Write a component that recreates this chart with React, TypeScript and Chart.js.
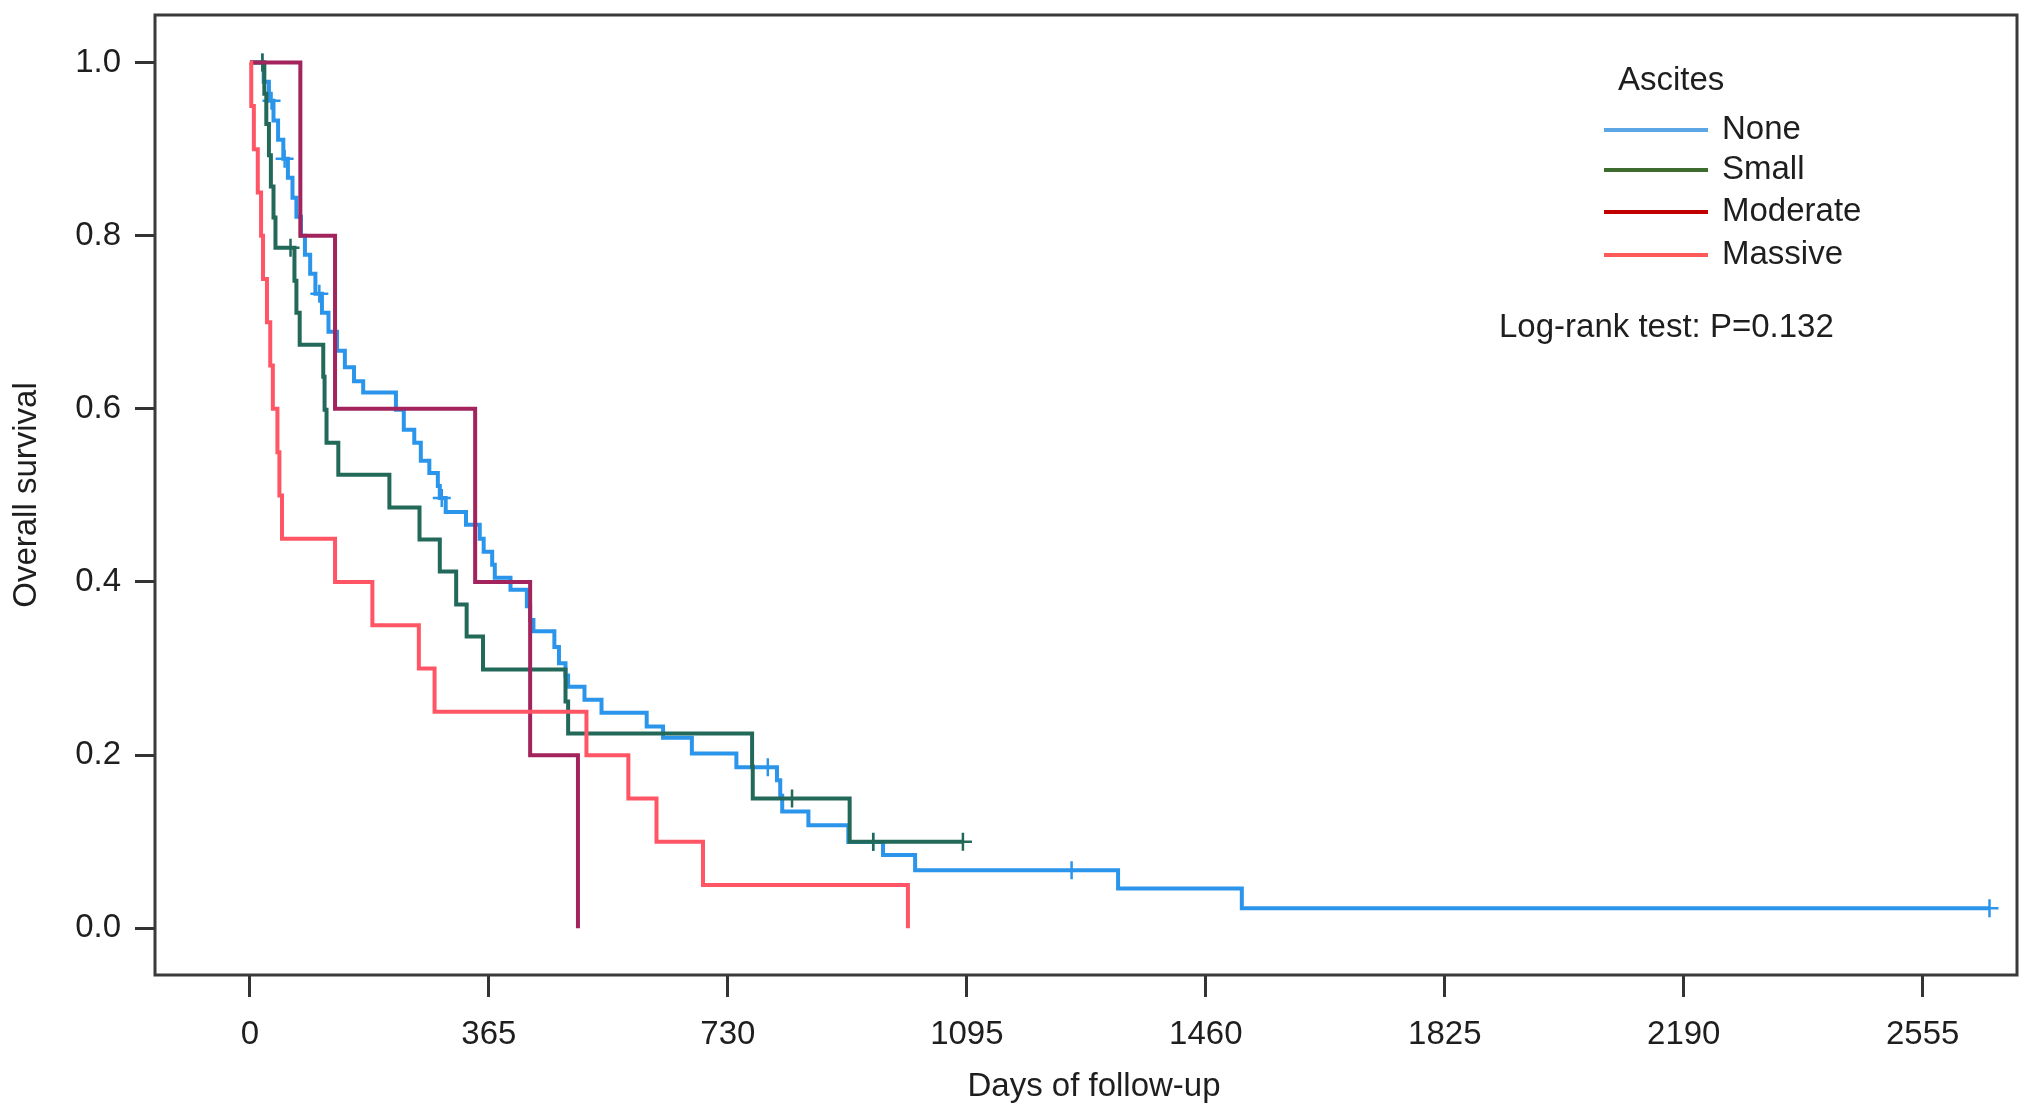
import React, { useEffect, useRef } from 'react';
import { Chart, registerables } from 'chart.js';

Chart.register(...registerables);

// ---- Axis ticks ----
const xTicks = [0, 365, 730, 1095, 1460, 1825, 2190, 2555];
const yTicks = [0, 0.2, 0.4, 0.6, 0.8, 1.0];

// ---- Series: None ----
const noneDays = [0, 21, 29, 36, 43, 51, 58, 65, 71, 78, 84, 92, 100, 110, 120, 133, 145, 159, 173, 223, 235, 251, 261, 274, 287, 290, 299, 330, 351, 357, 370, 374, 398, 423, 428, 433, 465, 472, 482, 486, 511, 537, 606, 631, 675, 743, 805, 810, 813, 853, 914, 967, 1016, 1326, 1515, 2657];
const noneSurv = [1.0, 0.978, 0.956, 0.933, 0.911, 0.889, 0.867, 0.844, 0.822, 0.800, 0.778, 0.756, 0.733, 0.711, 0.689, 0.667, 0.648, 0.632, 0.619, 0.599, 0.576, 0.561, 0.540, 0.526, 0.511, 0.497, 0.481, 0.466, 0.450, 0.435, 0.420, 0.405, 0.391, 0.372, 0.356, 0.343, 0.325, 0.306, 0.292, 0.279, 0.264, 0.249, 0.233, 0.220, 0.202, 0.186, 0.171, 0.153, 0.135, 0.119, 0.0995, 0.0845, 0.067, 0.046, 0.023, 0.023];
const noneCensorDays = [19, 33, 53, 106, 293, 791, 952, 1255, 2657];
const noneCensorSurv = [1.0, 0.956, 0.889, 0.733, 0.497, 0.186, 0.0995, 0.067, 0.023];

// ---- Series: Small ----
const smallDays = [0, 22, 25, 29, 32, 36, 39, 68, 71, 76, 112, 114, 117, 135, 213, 259, 290, 315, 331, 356, 482, 486, 767, 768, 916, 1089];
const smallSurv = [1.0, 0.964, 0.929, 0.893, 0.857, 0.821, 0.786, 0.748, 0.711, 0.674, 0.637, 0.599, 0.561, 0.524, 0.486, 0.449, 0.412, 0.374, 0.337, 0.299, 0.262, 0.225, 0.187, 0.150, 0.100, 0.100];
const smallCensorDays = [19, 62, 828, 952, 1089];
const smallCensorSurv = [1.0, 0.786, 0.150, 0.100, 0.100];

// ---- Series: Moderate ----
const moderateDays = [0, 77, 130, 344, 428, 501];
const moderateSurv = [1.0, 0.8, 0.6, 0.4, 0.2, 0.0];

// ---- Series: Massive ----
const massiveDays = [0, 2, 6, 12, 17, 20, 26, 31, 35, 42, 45, 49, 130, 187, 258, 282, 514, 578, 621, 692, 1005];
const massiveSurv = [1.0, 0.95, 0.90, 0.85, 0.80, 0.75, 0.70, 0.65, 0.60, 0.55, 0.50, 0.45, 0.40, 0.35, 0.30, 0.25, 0.20, 0.15, 0.10, 0.05, 0.0];

// ---- Legend / annotations ----
const legendTitle = 'Ascites';
const legendLabels = ['None', 'Small', 'Moderate', 'Massive'];
const legendColors = ['#5CA6E6', '#3E6B2E', '#C00000', '#FF5A5A'];
const curveColors = ['#2A95EA', '#22695A', '#A3235D', '#FF5565'];
const testText = 'Log-rank test: P=0.132';
const xTitle = 'Days of follow-up';
const yTitle = 'Overall survival';

const FONT = '"Liberation Sans", Arial, Helvetica, sans-serif';
const TEXT = '#1e1e1e';

const pts = (xs: number[], ys: number[]) => xs.map((x, i) => ({ x, y: ys[i] }));

const boxPlugin = {
  id: 'rbox',
  afterDraw(chart: any) {
    const { ctx, chartArea } = chart;
    ctx.save();
    ctx.strokeStyle = '#3a3a3a';
    ctx.lineWidth = 3;
    ctx.strokeRect(chartArea.left, chartArea.top, chartArea.right - chartArea.left, chartArea.bottom - chartArea.top);
    ctx.restore();
  },
};

const legendPlugin = {
  id: 'kmLegend',
  afterDraw(chart: any) {
    const { ctx } = chart;
    ctx.save();
    ctx.font = `33px ${FONT}`;
    ctx.fillStyle = TEXT;
    ctx.textBaseline = 'middle';
    ctx.textAlign = 'left';
    ctx.fillText(legendTitle, 1618, 81);
    const rows = [130, 170, 212, 255];
    legendLabels.forEach((lab, i) => {
      ctx.strokeStyle = legendColors[i];
      ctx.lineWidth = 4;
      ctx.beginPath();
      ctx.moveTo(1604, rows[i]);
      ctx.lineTo(1708, rows[i]);
      ctx.stroke();
      ctx.fillStyle = TEXT;
      ctx.fillText(lab, 1722, rows[i]);
    });
    ctx.fillText(testText, 1499, 328);
    // x-axis title
    ctx.textAlign = 'center';
    ctx.fillText(xTitle, 1094, 1087);
    ctx.restore();
  },
};

export default function App() {
  const ref = useRef<HTMLCanvasElement | null>(null);

  useEffect(() => {
    if (!ref.current) return;
    Chart.defaults.font.family = FONT;
    const line = (label: string, data: any[], color: string, order: number) => ({
      type: 'line' as const,
      label,
      data,
      borderColor: color,
      backgroundColor: color,
      borderWidth: 4,
      stepped: 'before' as const,
      pointRadius: 0,
      fill: false,
      order,
    });
    const censor = (label: string, data: any[], color: string, order: number) => ({
      type: 'scatter' as const,
      label,
      data,
      borderColor: color,
      backgroundColor: color,
      pointStyle: 'cross' as const,
      pointRadius: 9,
      borderWidth: 2.5,
      showLine: false,
      order,
    });

    const chart = new Chart(ref.current, {
      type: 'line',
      data: {
        datasets: [
          line('None', pts(noneDays, noneSurv), curveColors[0], 8),
          censor('None censored', pts(noneCensorDays, noneCensorSurv), curveColors[0], 7),
          line('Small', pts(smallDays, smallSurv), curveColors[1], 6),
          censor('Small censored', pts(smallCensorDays, smallCensorSurv), curveColors[1], 5),
          line('Moderate', pts(moderateDays, moderateSurv), curveColors[2], 4),
          line('Massive', pts(massiveDays, massiveSurv), curveColors[3], 2),
        ] as any,
      },
      options: {
        animation: false,
        responsive: false,
        devicePixelRatio: 1,
        layout: { padding: { left: 0, top: 15, right: 15, bottom: 0 } },
        plugins: {
          legend: { display: false },
          tooltip: { enabled: false },
        },
        scales: {
          x: {
            type: 'linear',
            min: -145,
            max: 2699,
            afterFit: (s: any) => { s.height = 139; s.paddingLeft = 0; s.paddingRight = 0; },
            afterBuildTicks: (s: any) => { s.ticks = xTicks.map((v) => ({ value: v })); },
            grid: { drawOnChartArea: false, drawTicks: true, tickLength: 22, color: '#333', lineWidth: 3 },
            border: { display: false },
            ticks: {
              font: { size: 33, family: FONT },
              color: TEXT,
              padding: 18,
              maxRotation: 0,
              autoSkip: false,
              callback: (v: any) => String(v),
            },
            title: { display: false, text: xTitle },
          },
          y: {
            type: 'linear',
            min: -0.054,
            max: 1.055,
            afterFit: (s: any) => { s.width = 155; s.paddingTop = 0; s.paddingBottom = 0; },
            afterBuildTicks: (s: any) => { s.ticks = yTicks.map((v) => ({ value: v })); },
            grid: { drawOnChartArea: false, drawTicks: true, tickLength: 20, color: '#333', lineWidth: 3 },
            border: { display: false },
            ticks: {
              font: { size: 33, family: FONT },
              color: TEXT,
              padding: 14,
              autoSkip: false,
              callback: (v: any) => Number(v).toFixed(1),
            },
            title: {
              display: true,
              text: yTitle,
              color: TEXT,
              font: { size: 33, family: FONT, lineHeight: 1 },
              padding: { top: 10, bottom: 0 },
            },
          },
        },
      },
      plugins: [boxPlugin, legendPlugin],
    });
    return () => chart.destroy();
  }, []);

  return (
    <div style={{ position: 'fixed', left: 0, top: 0, width: 2032, height: 1114, background: '#fff' }}>
      <canvas ref={ref} width={2032} height={1114} style={{ width: 2032, height: 1114, display: 'block' }} />
    </div>
  );
}
